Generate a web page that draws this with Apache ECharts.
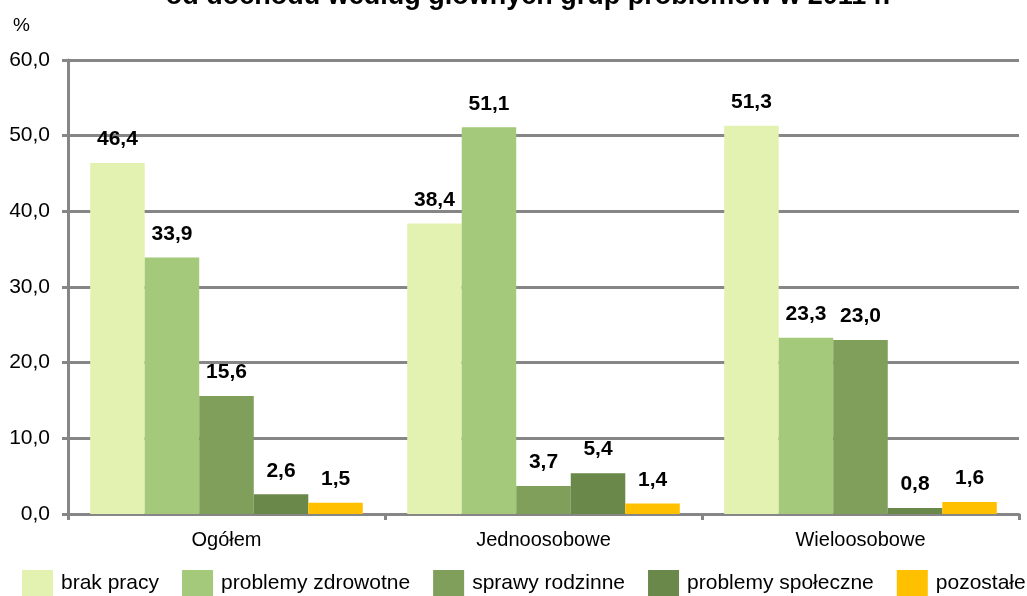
<!DOCTYPE html>
<html><head><meta charset="utf-8">
<script src="https://cdn.jsdelivr.net/npm/echarts@6/dist/echarts.min.js"></script>
<style>html,body{margin:0;padding:0;background:#fff}#c{width:1027px;height:596px}</style>
</head><body><div id="c"></div>
<script>
const categories = ['Ogółem', 'Jednoosobowe', 'Wieloosobowe'];
const seriesNames = ['brak pracy', 'problemy zdrowotne', 'sprawy rodzinne', 'problemy społeczne', 'pozostałe'];
const brakPracy = [46.4, 38.4, 51.3];
const problemyZdrowotne = [33.9, 51.1, 23.3];
const sprawyRodzinne = [15.6, 3.7, 23.0];
const problemySpoleczne = [2.6, 5.4, 0.8];
const pozostale = [1.5, 1.4, 1.6];
const yTicks = [0, 10, 20, 30, 40, 50, 60];
const colors = ['#E3F2B1', '#A4C97A', '#7F9F5A', '#69884A', '#FFC000'];
const seriesData = [brakPracy, problemyZdrowotne, sprawyRodzinne, problemySpoleczne, pozostale];

const FONT = '"Liberation Sans", Arial, sans-serif';
const fmt = v => v.toFixed(1).replace('.', ',');

const chart = echarts.init(document.getElementById('c'), null, {renderer: 'canvas'});
chart.setOption({
  animation: false,
  backgroundColor: '#fff',
  title: {
    text: 'od dochodu według głównych grup problemów w 2011 r.',
    left: 528, textAlign: 'center', top: -17, padding: 0,
    textStyle: {fontFamily: FONT, fontSize: 27, fontWeight: 'bold', color: '#000'}
  },
  graphic: [{
    type: 'text', left: 13, top: 16,
    style: {text: '%', fontFamily: FONT, fontSize: 19, fill: '#000'}
  }],
  legend: {
    top: 570, left: 22, padding: 0,
    itemWidth: 31, itemHeight: 26, itemGap: 23,
    icon: 'rect',
    data: seriesNames,
    textStyle: {fontFamily: FONT, fontSize: 21, color: '#000', padding: [0, 0, 0, 3]}
  },
  grid: {left: 68, right: 8, top: 60, bottom: 82, containLabel: false},
  xAxis: {
    type: 'category', data: categories,
    axisLine: {lineStyle: {color: '#868686', width: 3}},
    axisTick: {show: true, length: 6, lineStyle: {color: '#868686', width: 3}},
    axisLabel: {fontFamily: FONT, fontSize: 20, color: '#000', margin: 16}
  },
  yAxis: {
    type: 'value', min: 0, max: 60, interval: 10,
    axisLine: {show: true, lineStyle: {color: '#868686', width: 3}},
    axisTick: {show: true, length: 6, lineStyle: {color: '#868686', width: 3}},
    axisLabel: {fontFamily: FONT, fontSize: 21, color: '#000', margin: 18,
      formatter: v => yTicks.includes(v) ? fmt(v) : ''},
    splitLine: {show: true, lineStyle: {color: '#868686', width: 3}}
  },
  series: seriesNames.map((n, i) => ({
    name: n, type: 'bar', data: seriesData[i],
    barGap: '0%', barCategoryGap: '14%',
    itemStyle: {color: colors[i]},
    label: {show: true, position: 'top', distance: 13,
      fontFamily: FONT, fontSize: 21, fontWeight: 'bold', color: '#000',
      formatter: p => fmt(p.value)}
  }))
});
</script></body></html>
